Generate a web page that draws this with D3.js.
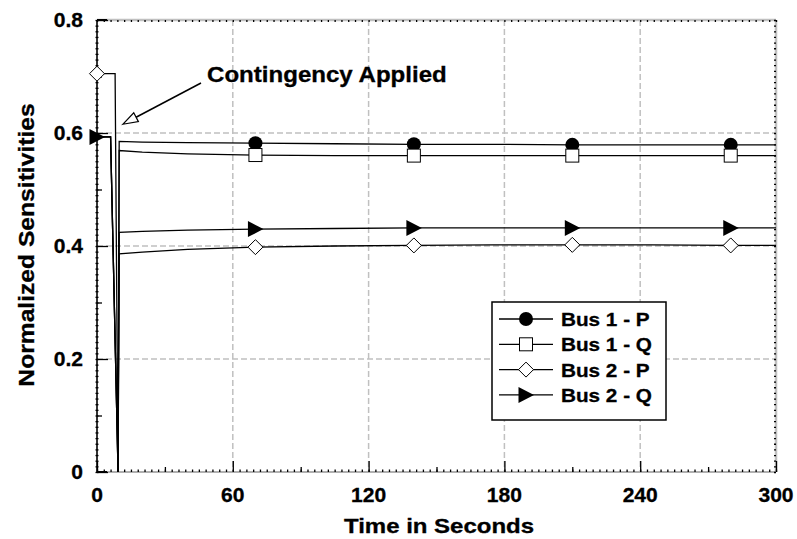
<!DOCTYPE html>
<html>
<head>
<meta charset="utf-8">
<script src="https://cdn.jsdelivr.net/npm/d3@7"></script>
<style>
  body { margin: 0; background: #fff; }
  text { font-family: "Liberation Sans", Arial, sans-serif; font-weight: bold; fill: #000; stroke: #000; stroke-width: 0.3px; }
</style>
</head>
<body>
<script>
// series data (time in s, normalized sensitivity)
var bus1P_t = [0, 6, 9.3, 9.8, 20, 40, 70, 105, 140, 175, 210, 245, 280, 300];
var bus1P_v = [0.593, 0.593, 0, 0.585, 0.584, 0.583, 0.582, 0.581, 0.580, 0.580, 0.579, 0.579, 0.579, 0.579];

var bus1Q_t = [0, 6, 9.3, 9.8, 20, 40, 70, 105, 140, 175, 210, 245, 280, 300];
var bus1Q_v = [0.593, 0.593, 0, 0.569, 0.566, 0.563, 0.561, 0.560, 0.560, 0.560, 0.560, 0.560, 0.560, 0.560];

var bus2P_t = [0, 8, 9.3, 9.8, 20, 40, 70, 105, 140, 175, 210, 245, 280, 300];
var bus2P_v = [0.705, 0.705, 0, 0.386, 0.389, 0.394, 0.398, 0.400, 0.401, 0.402, 0.402, 0.402, 0.401, 0.401];

var bus2Q_t = [0, 6, 9.3, 9.8, 20, 40, 70, 105, 140, 175, 210, 245, 280, 300];
var bus2Q_v = [0.593, 0.593, 0, 0.424, 0.426, 0.428, 0.430, 0.431, 0.432, 0.432, 0.432, 0.432, 0.432, 0.432];

var bus1Marks = [70, 140, 210, 280];
var bus2Marks = [0, 70, 140, 210, 280];

var seriesNames = ["Bus 1 - P", "Bus 1 - Q", "Bus 2 - P", "Bus 2 - Q"];
var xTicks = [0, 60, 120, 180, 240, 300];
var yTicks = [0, 0.2, 0.4, 0.6, 0.8];
var annotation = "Contingency Applied";

var w = 797, h = 539;
var padL = 97, padR = 776, padT = 20, padB = 472;

var svg = d3.select("body").append("svg")
  .attr("width", w)
  .attr("height", h);

var xScale = d3.scaleLinear().domain([0, 300]).range([padL, padR]);
var yScale = d3.scaleLinear().domain([0, 0.8]).range([padB, padT]);

// stretched bold text, the original font is wider than Arial
function label(x, y, str, size, sx, anchor, rot) {
  var tr = "translate(" + x + "," + y + ")" + (rot ? " rotate(" + rot + ")" : "") + " scale(" + sx + ",1)";
  return svg.append("text")
    .attr("transform", tr)
    .attr("text-anchor", anchor)
    .style("font-size", size + "px")
    .text(str);
}

// grid
svg.selectAll(".gx").data(xTicks.slice(1, -1)).enter().append("line")
  .attr("x1", function(d){ return xScale(d); })
  .attr("x2", function(d){ return xScale(d); })
  .attr("y1", padT).attr("y2", padB)
  .attr("stroke", "#c0c0c0").attr("stroke-width", 1.5).attr("stroke-dasharray", "6,3");
svg.selectAll(".gy").data(yTicks.slice(1, -1)).enter().append("line")
  .attr("y1", function(d){ return yScale(d); })
  .attr("y2", function(d){ return yScale(d); })
  .attr("x1", padL).attr("x2", padR)
  .attr("stroke", "#c0c0c0").attr("stroke-width", 1.5).attr("stroke-dasharray", "6,3");

// frame: grey top/right/bottom, black left
svg.append("line").attr("x1", padL).attr("x2", padR).attr("y1", padT).attr("y2", padT)
  .attr("stroke", "#c0c0c0").attr("stroke-width", 2.5);
svg.append("line").attr("x1", padR).attr("x2", padR).attr("y1", padT).attr("y2", padB)
  .attr("stroke", "#c0c0c0").attr("stroke-width", 2.5);
svg.append("line").attr("x1", padL).attr("x2", padR).attr("y1", padB).attr("y2", padB)
  .attr("stroke", "#b0b0b0").attr("stroke-width", 2);

// series lines
var series = [
  { t: bus1P_t, v: bus1P_v, marks: bus1Marks, shape: "circle" },
  { t: bus1Q_t, v: bus1Q_v, marks: bus1Marks, shape: "square" },
  { t: bus2P_t, v: bus2P_v, marks: bus2Marks, shape: "diamond" },
  { t: bus2Q_t, v: bus2Q_v, marks: bus2Marks, shape: "triangle" }
];

var line = d3.line()
  .x(function(d){ return xScale(d[0]); })
  .y(function(d){ return yScale(d[1]); });

series.forEach(function(s) {
  var pts = s.t.map(function(t, i){ return [t, s.v[i]]; });
  svg.append("path")
    .attr("d", line(pts))
    .attr("fill", "none")
    .attr("stroke", "#000")
    .attr("stroke-width", 1.3);
});

// axes ticks (inward)
function ticks(axis, tr) {
  var g = svg.append("g").attr("transform", tr).call(axis);
  g.select(".domain").remove();
  g.selectAll("text").remove();
  g.selectAll("line").attr("stroke", "#000").attr("stroke-width", 1.3);
  return g;
}
ticks(d3.axisTop(xScale).tickValues(d3.range(0, 301, 3)).tickSize(2.5), "translate(0," + padB + ")");
ticks(d3.axisTop(xScale).tickValues(d3.range(30, 300, 60)).tickSize(5), "translate(0," + padB + ")");
ticks(d3.axisTop(xScale).tickValues(xTicks).tickSize(11), "translate(0," + padB + ")");
ticks(d3.axisBottom(xScale).tickValues(d3.range(0, 301, 3)).tickSize(2), "translate(0," + padT + ")");
ticks(d3.axisLeft(yScale).tickValues(d3.range(0, 0.801, 0.01)).tickSize(2), "translate(" + padR + ",0)");
ticks(d3.axisRight(yScale).tickValues(d3.range(0, 0.801, 0.01)).tickSize(3), "translate(" + (padL - 1.5) + ",0)");
ticks(d3.axisRight(yScale).tickValues([0.1, 0.3, 0.5, 0.7]).tickSize(5), "translate(" + padL + ",0)");
ticks(d3.axisRight(yScale).tickValues(yTicks).tickSize(11), "translate(" + padL + ",0)");

svg.append("line").attr("x1", padL).attr("x2", padL).attr("y1", padT).attr("y2", padB)
  .attr("stroke", "#000").attr("stroke-width", 1.6);
svg.append("line").attr("x1", padL).attr("x2", padL + 10).attr("y1", padB).attr("y2", padB)
  .attr("stroke", "#000").attr("stroke-width", 2);
svg.append("line").attr("x1", padL).attr("x2", padL + 10).attr("y1", padT).attr("y2", padT)
  .attr("stroke", "#000").attr("stroke-width", 2);

// markers
function drawMarker(g, shape, cx, cy) {
  if (shape === "circle") {
    g.append("circle").attr("cx", cx).attr("cy", cy).attr("r", 7).attr("fill", "#000");
  } else if (shape === "square") {
    g.append("rect").attr("x", cx - 6.5).attr("y", cy - 6.5).attr("width", 13).attr("height", 13)
      .attr("fill", "#fff").attr("stroke", "#000").attr("stroke-width", 1);
  } else if (shape === "diamond") {
    g.append("path").attr("d", "M" + cx + "," + (cy - 7.5) + "L" + (cx + 7.5) + "," + cy + "L" + cx + "," + (cy + 7.5) + "L" + (cx - 7.5) + "," + cy + "Z")
      .attr("fill", "#fff").attr("stroke", "#000").attr("stroke-width", 1);
  } else {
    g.append("path").attr("d", "M" + (cx - 7.5) + "," + (cy - 8) + "L" + (cx + 8) + "," + cy + "L" + (cx - 7.5) + "," + (cy + 8) + "Z")
      .attr("fill", "#000");
  }
}

var markG = svg.append("g");
series.forEach(function(s) {
  s.marks.forEach(function(m) {
    var i = s.t.indexOf(m);
    drawMarker(markG, s.shape, xScale(m), yScale(s.v[i]));
  });
});

// tick labels
xTicks.forEach(function(d) {
  label(xScale(d), 502, d, 19.5, 1.08, "middle");
});
yTicks.forEach(function(d) {
  label(83, yScale(d) + 7, d === 0 ? "0" : d.toFixed(1), 19.5, 1.08, "end");
});

// axis titles
label(439, 533, "Time in Seconds", 20, 1.2, "middle");
label(34, 245, "Normalized Sensitivities", 22, 1.12, "middle", -90);

// annotation with open arrow head
var tip = [xScale(11.4), yScale(0.6155)];
var tail = [201, 83];
var dx = tail[0] - tip[0], dy = tail[1] - tip[1];
var len = Math.sqrt(dx * dx + dy * dy);
var ux = dx / len, uy = dy / len;
var bx = tip[0] + ux * 15, by = tip[1] + uy * 15;
svg.append("line").attr("x1", tail[0]).attr("y1", tail[1]).attr("x2", bx).attr("y2", by)
  .attr("stroke", "#000").attr("stroke-width", 1.5);
svg.append("path")
  .attr("d", "M" + tip[0] + "," + tip[1] + "L" + (bx - uy * 5) + "," + (by + ux * 5) + "L" + (bx + uy * 5) + "," + (by - ux * 5) + "Z")
  .attr("fill", "#fff").attr("stroke", "#000").attr("stroke-width", 1.2);
label(207, 82, annotation, 21.5, 1.12, "start");

// legend
var lg = svg.append("g");
lg.append("rect").attr("x", 492).attr("y", 302).attr("width", 174).attr("height", 118)
  .attr("fill", "#fff").attr("stroke", "#000").attr("stroke-width", 1.5);
seriesNames.forEach(function(name, i) {
  var ly = 319 + i * 25.3;
  lg.append("line").attr("x1", 499).attr("x2", 553).attr("y1", ly).attr("y2", ly)
    .attr("stroke", "#000").attr("stroke-width", 1.3);
  drawMarker(lg, series[i].shape, 526, ly);
  label(561, ly + 7, name, 18.5, 1.12, "start");
});
</script>
</body>
</html>
